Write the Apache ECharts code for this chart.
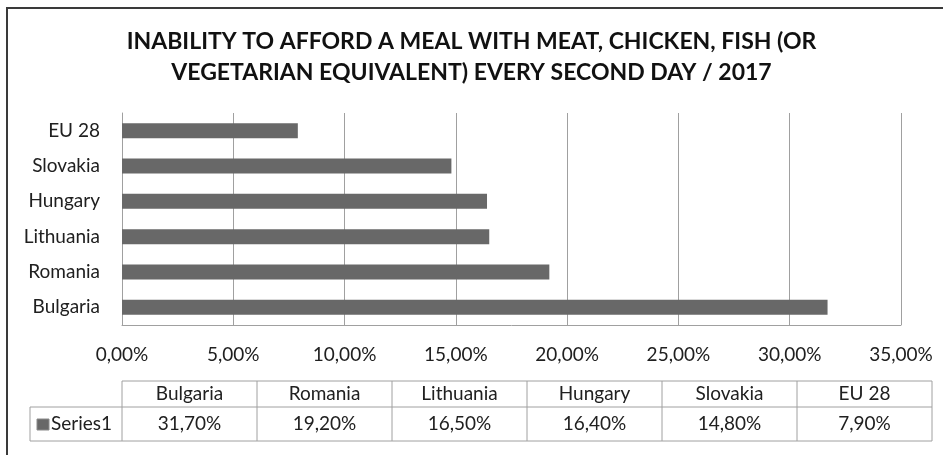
<!DOCTYPE html>
<html>
<head>
<meta charset="utf-8">
<script src="https://cdn.jsdelivr.net/npm/echarts@6/dist/echarts.min.js"></script>
<style>
  html, body { margin: 0; padding: 0; background: #fff; }
  #chart { width: 943px; height: 455px; }
</style>
</head>
<body>
<div id="chart"></div>
<script>
const categories = ['Bulgaria', 'Romania', 'Lithuania', 'Hungary', 'Slovakia', 'EU 28']
const values = [0.317, 0.192, 0.165, 0.164, 0.148, 0.079]
const seriesName = 'Series1'
const titleLines = [
  'INABILITY TO AFFORD A MEAL WITH MEAT, CHICKEN, FISH (OR',
  'VEGETARIAN EQUIVALENT) EVERY SECOND DAY / 2017'
]

const font = 'Lato, "Open Sans", sans-serif'
const barColor = '#686868'
const lineColor = '#a0a0a0'
const textColor = '#202020'
const labelSize = 19

const fmtPct = (v) => (v * 100).toFixed(2).replace('.', ',') + '%'

// data table under the axis
const tbl = { left: 122, colW: 135, keyLeft: 30, top: 381, mid: 407, bottom: 441 }

function tableGraphics() {
  const els = []
  const right = tbl.left + tbl.colW * categories.length
  const line = (x1, y1, x2, y2) => ({
    type: 'line',
    shape: { x1, y1, x2, y2 },
    style: { stroke: lineColor, lineWidth: 1 },
    silent: true
  })
  els.push(line(tbl.left, tbl.top, right, tbl.top))
  els.push(line(tbl.keyLeft, tbl.mid, right, tbl.mid))
  els.push(line(tbl.keyLeft, tbl.bottom, right, tbl.bottom))
  els.push(line(tbl.keyLeft, tbl.mid, tbl.keyLeft, tbl.bottom))
  for (let i = 0; i <= categories.length; i++) {
    const x = tbl.left + tbl.colW * i
    els.push(line(x, tbl.top, x, tbl.bottom))
  }
  const txt = labelSize + 'px ' + font
  categories.forEach((c, i) => {
    const cx = tbl.left + tbl.colW * (i + 0.5)
    els.push({
      type: 'text', x: cx, y: (tbl.top + tbl.mid) / 2,
      style: { text: c, font: txt, fill: textColor, align: 'center', verticalAlign: 'middle' }
    })
    els.push({
      type: 'text', x: cx, y: (tbl.mid + tbl.bottom) / 2,
      style: { text: fmtPct(values[i]), font: txt, fill: textColor, align: 'center', verticalAlign: 'middle' }
    })
  })
  els.push({
    type: 'rect', shape: { x: 37, y: 419, width: 12, height: 11 },
    style: { fill: barColor, stroke: '#8a8a8a', lineWidth: 1 }
  })
  els.push({
    type: 'text', x: 51, y: (tbl.mid + tbl.bottom) / 2,
    style: { text: seriesName, font: txt, fill: textColor, align: 'left', verticalAlign: 'middle' }
  })
  // outer frame (top + left edge)
  els.push({ type: 'line', shape: { x1: 7, y1: 8, x2: 943, y2: 8 }, style: { stroke: '#3a3a3a', lineWidth: 2 } })
  els.push({ type: 'line', shape: { x1: 7, y1: 7, x2: 7, y2: 455 }, style: { stroke: '#3a3a3a', lineWidth: 2 } })
  return els
}

const chart = echarts.init(document.getElementById('chart'))

chart.setOption({
  animation: false,
  backgroundColor: '#fff',
  title: {
    text: titleLines.join('\n'),
    left: 'center',
    top: 21,
    textStyle: {
      fontFamily: font,
      fontSize: 23,
      fontWeight: 'bold',
      color: '#111',
      lineHeight: 31
    }
  },
  grid: { left: 122, right: 42, top: 113, bottom: 130 },
  xAxis: {
    type: 'value',
    min: 0,
    max: 0.35,
    interval: 0.05,
    axisLabel: {
      formatter: fmtPct,
      fontFamily: font,
      fontSize: labelSize,
      color: textColor,
      margin: 20
    },
    axisLine: { show: true, lineStyle: { color: lineColor } },
    axisTick: { show: false },
    splitLine: { show: true, lineStyle: { color: lineColor } }
  },
  yAxis: {
    type: 'category',
    data: categories,
    axisLabel: { fontFamily: font, fontSize: labelSize, color: textColor, margin: 22 },
    axisLine: { show: true, lineStyle: { color: lineColor } },
    axisTick: { show: false },
    splitLine: { show: false }
  },
  series: [
    {
      name: seriesName,
      type: 'bar',
      data: values,
      barWidth: 15,
      itemStyle: { color: barColor }
    }
  ],
  graphic: tableGraphics()
})
</script>
</body>
</html>
